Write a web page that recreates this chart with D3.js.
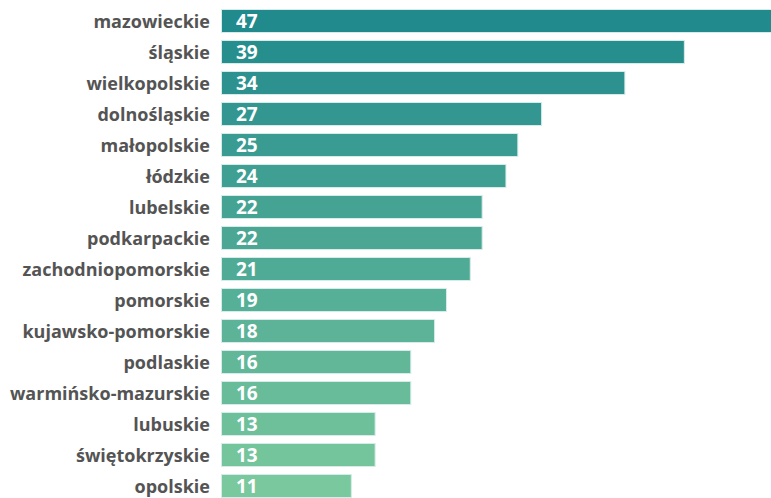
<!DOCTYPE html>
<html><head><meta charset="utf-8">
<script src="https://cdn.jsdelivr.net/npm/d3@7"></script>
<style>body{margin:0;background:#fff;overflow:hidden}svg{display:block}</style>
</head><body>
<svg id="c" width="771" height="498"></svg>
<script>
const categories = ["mazowieckie","śląskie","wielkopolskie","dolnośląskie","małopolskie","łódzkie","lubelskie","podkarpackie","zachodniopomorskie","pomorskie","kujawsko-pomorskie","podlaskie","warmińsko-mazurskie","lubuskie","świętokrzyskie","opolskie"];
const values = [47,39,34,27,25,24,22,22,21,19,18,16,16,13,13,11];

const svg = d3.select("#c");
const x0 = 221;
const x = d3.scaleLinear().domain([0, 47]).range([x0, x0 + 559]);
const y = d3.scaleBand().domain(categories).range([9 - 3.5, 9 - 3.5 + 31 * 16]).paddingInner(0.226).paddingOuter(0.113);
const color = d3.scaleLinear().domain([0, categories.length - 1]).range(["#218a8d", "#7ac89d"]).interpolate(d3.interpolateRgb);

const g = svg.append("g");
const rows = g.selectAll("g.row").data(categories).join("g").attr("class","row");
rows.append("rect")
  .attr("x", x(0) + 0.5)
  .attr("y", d => y(d) + 0.5)
  .attr("width", (d,i) => x(values[i]) - x(0) - 1)
  .attr("height", y.bandwidth() - 1)
  .attr("fill", (d,i) => color(i))
  .attr("stroke", "#d6ecea").attr("stroke-width", 1);
rows.append("text")
  .attr("x", 210)
  .attr("y", d => y(d) + y.bandwidth()/2)
  .attr("dy", "0.4em")
  .attr("text-anchor", "end")
  .attr("font-family", "'Open Sans', sans-serif").attr("font-weight", 700)
  .attr("font-size", 18).attr("fill", "#545454")
  .text(d => d);
rows.append("text")
  .attr("x", 236)
  .attr("y", d => y(d) + y.bandwidth()/2)
  .attr("dy", "0.38em")
  .attr("font-family", "'Open Sans', sans-serif").attr("font-weight", 700)
  .attr("font-size", 19).attr("fill", "#fff")
  .text((d,i) => values[i]);
</script>
</body></html>
